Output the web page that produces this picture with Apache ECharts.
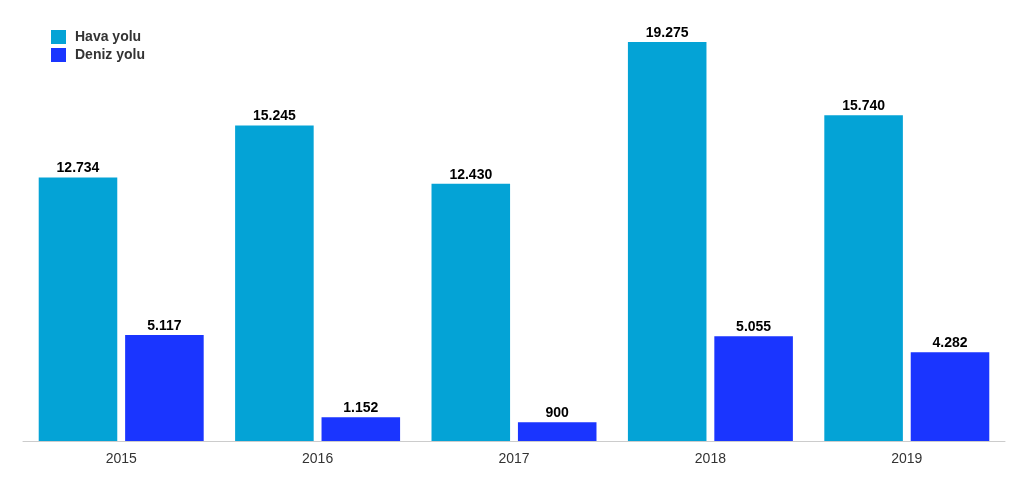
<!DOCTYPE html>
<html><head><meta charset="utf-8">
<script src="https://cdn.jsdelivr.net/npm/echarts@6/dist/echarts.min.js"></script>
<style>html,body{margin:0;padding:0;background:#fff}#c{width:1024px;height:478px}</style>
</head><body><div id="c"></div>
<script>
const categories = ['2015','2016','2017','2018','2019'];
const havaYolu = [12734, 15245, 12430, 19275, 15740];
const denizYolu = [5117, 1152, 900, 5055, 4282];
const seriesNames = ['Hava yolu', 'Deniz yolu'];

const fmt = v => v.toString().replace(/\B(?=(\d{3})+(?!\d))/g, '.');
const chart = echarts.init(document.getElementById('c'));
const label = {show:true, position:'top', distance:2, color:'#000', fontWeight:'bold', fontSize:14,
  fontFamily:'Liberation Sans, Arial, sans-serif', formatter: p => fmt(p.value)};
chart.setOption({
  animation:false,
  legend:{orient:'vertical', left:46, top:25, itemWidth:15, itemHeight:14, itemGap:4, icon:'rect',
    textStyle:{color:'#333', fontWeight:'bold', fontSize:14, padding:[0,0,0,4], fontFamily:'Liberation Sans, Arial, sans-serif'}},
  grid:{left:23, right:19, top:42, bottom:37, containLabel:false},
  xAxis:{type:'category', data:categories, axisTick:{show:false},
    axisLine:{lineStyle:{color:'#ccc'}},
    axisLabel:{color:'#333', fontSize:14, margin:11, fontFamily:'Liberation Sans, Arial, sans-serif'}},
  yAxis:{type:'value', min:0, max:19275, show:false, splitLine:{show:false}},
  series:[
    {name:seriesNames[0], type:'bar', data:havaYolu, itemStyle:{color:'#04A3D6'}, barGap:'10%', barCategoryGap:'16%', label},
    {name:seriesNames[1], type:'bar', data:denizYolu, itemStyle:{color:'#1A35FF'}, barGap:'10%', barCategoryGap:'16%', label}
  ]
});
</script></body></html>
